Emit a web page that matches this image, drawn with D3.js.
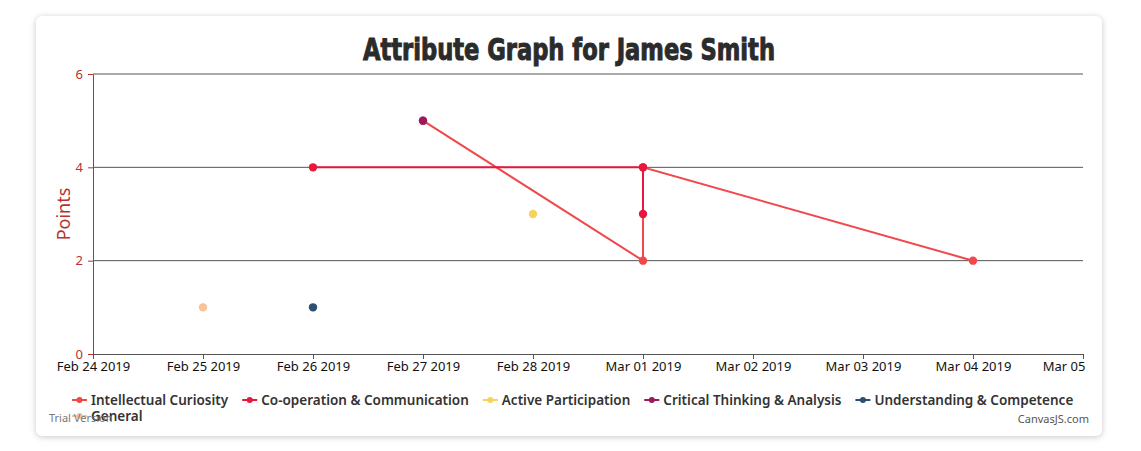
<!DOCTYPE html>
<meta charset="utf-8">
<style>
    body { margin: 0; background: #fff; }
    #card {
        position: absolute; left: 36px; top: 16px; width: 1066px; height: 420px;
        background: #fff; border-radius: 6px;
        box-shadow: 0 1px 6px rgba(0,0,0,0.22);
    }
    svg { position: absolute; left: 0; top: 0; }
    text { font-family: "Noto Sans", "DejaVu Sans", sans-serif; }
</style>
<script src="https://d3js.org/d3.v7.min.js"></script>
<div id="card"></div>
<svg id="chart" width="1141" height="451"></svg>
<script>

// series, in draw order
var names = ["Intellectual Curiosity", "Co-operation & Communication", "Active Participation",
             "Critical Thinking & Analysis", "Understanding & Competence", "General"];
var colors = ["#f0484b", "#e8173e", "#f6d35c", "#9b1a5b", "#2c4f72", "#f9c39a"];

var intellectualDates = ["2019-02-27", "2019-03-01", "2019-03-01", "2019-03-04"];
var intellectualValues = [5, 2, 4, 2];
var cooperationDates = ["2019-02-26", "2019-03-01", "2019-03-01"];
var cooperationValues = [4, 4, 3];
var activeDates = ["2019-02-28"];
var activeValues = [3];
var criticalDates = ["2019-02-27"];
var criticalValues = [5];
var understandingDates = ["2019-02-26"];
var understandingValues = [1];
var generalDates = ["2019-02-25"];
var generalValues = [1];

var xDomain = ["2019-02-24", "2019-03-05"];
var yTicks = [0, 2, 4, 6];

var allDates = [intellectualDates, cooperationDates, activeDates, criticalDates, understandingDates, generalDates];
var allValues = [intellectualValues, cooperationValues, activeValues, criticalValues, understandingValues, generalValues];

var parse = d3.utcParse("%Y-%m-%d");
var series = names.map(function(n, i) {
    return {
        name: n, color: colors[i],
        points: allDates[i].map(function(d, j) { return { x: parse(d), y: allValues[i][j] }; })
    };
});

var svg = d3.select("#chart");
var plotLeft = 93, plotRight = 1083, plotTop = 74, plotBottom = 354;

var x = d3.scaleUtc().domain(xDomain.map(parse)).range([plotLeft, plotRight]);
var y = d3.scaleLinear().domain([0, 6]).range([plotBottom, plotTop]);

// title
svg.append("text")
    .attr("x", 569).attr("y", 60)
    .attr("text-anchor", "middle")
    .attr("textLength", 412).attr("lengthAdjust", "spacingAndGlyphs")
    .style("font-family", "'DejaVu Sans Condensed', 'DejaVu Sans', sans-serif")
    .style("font-weight", "bold").style("font-size", "31px")
    .style("fill", "#2b2b2b").style("stroke", "#2b2b2b").style("stroke-width", 1)
    .text("Attribute Graph for James Smith");

// grid lines
svg.append("g").selectAll("line")
    .data(yTicks.filter(function(d) { return d > 0; }))
    .enter().append("line")
    .attr("x1", plotLeft).attr("x2", plotRight)
    .attr("y1", function(d) { return y(d); }).attr("y2", function(d) { return y(d); })
    .attr("stroke", "#555").attr("stroke-width", 1);

// x axis
var xAxis = svg.append("g").attr("transform", "translate(0," + plotBottom + ")")
    .call(d3.axisBottom(x).ticks(d3.utcDay.every(1)).tickSize(5).tickSizeOuter(0)
        .tickFormat(d3.utcFormat("%b %d %Y")));
xAxis.select(".domain").attr("stroke", "#555");
xAxis.selectAll(".tick line").attr("stroke", "#555");
xAxis.selectAll(".tick text")
    .attr("y", 8)
    .style("font-size", "13px").style("fill", "#111")
    .each(function(d) {
        // shorten a label that would run past the card edge
        if (x(d) + 40 > 1102) {
            d3.select(this).text(d3.utcFormat("%b %d")(d))
                .attr("text-anchor", "end").attr("x", 2);
        }
    });

// y axis
var yAxis = svg.append("g").attr("transform", "translate(" + plotLeft + ",0)")
    .call(d3.axisLeft(y).tickValues(yTicks).tickFormat(d3.format("d")).tickSize(5).tickSizeOuter(0));
yAxis.select(".domain").attr("stroke", "#b8312f");
yAxis.selectAll(".tick line").attr("stroke", "#b8312f");
yAxis.selectAll(".tick text")
    .attr("x", -10)
    .style("font-size", "13px").style("fill", "#b8312f");

svg.append("text")
    .attr("transform", "translate(70," + (y(3)) + ") rotate(-90)")
    .attr("text-anchor", "middle")
    .style("font-size", "18px").style("fill", "#b8312f")
    .text("Points");

// series
var line = d3.line().x(function(d) { return x(d.x); }).y(function(d) { return y(d.y); });
series.forEach(function(s) {
    var g = svg.append("g");
    if (s.points.length > 1) {
        g.append("path").datum(s.points)
            .attr("d", line).attr("fill", "none")
            .attr("stroke", s.color).attr("stroke-width", 2);
    }
    g.selectAll("circle").data(s.points).enter().append("circle")
        .attr("cx", function(d) { return x(d.x); })
        .attr("cy", function(d) { return y(d.y); })
        .attr("r", 4.2).attr("fill", s.color);
});

// legend
var legend = svg.append("g");
var legendLeft = 72, lx = legendLeft, ly = 400, rowH = 16, maxX = 1090;
series.forEach(function(s) {
    var item = legend.append("g");
    var t = item.append("text")
        .attr("x", 19).attr("dy", "0.35em")
        .style("font-size", "13.5px").style("font-weight", "600").style("fill", "#333")
        .text(s.name);
    var w = 19 + t.node().getComputedTextLength();
    if (lx + w > maxX) { lx = legendLeft; ly += rowH; }
    item.attr("transform", "translate(" + lx + "," + ly + ")");
    item.insert("line", "text").attr("x1", 0).attr("x2", 15)
        .attr("stroke", s.color).attr("stroke-width", 2);
    item.insert("circle", "text").attr("cx", 7.5).attr("r", 3).attr("fill", s.color);
    lx += w + 14;
});

// credits
svg.append("text").attr("x", 49).attr("y", 422)
    .style("font-size", "11px").style("fill", "#777").text("Trial Version");
svg.append("text").attr("x", 1089).attr("y", 423).attr("text-anchor", "end")
    .style("font-size", "11px").style("fill", "#555").text("CanvasJS.com");

</script>
